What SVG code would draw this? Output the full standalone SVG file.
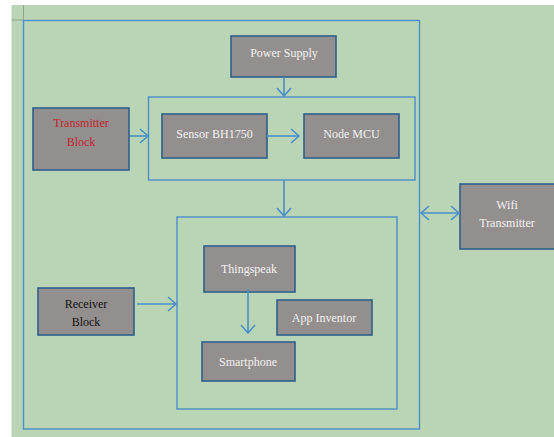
<svg xmlns="http://www.w3.org/2000/svg" width="554" height="437" viewBox="0 0 554 437">
<defs>
<marker id="arr" markerUnits="userSpaceOnUse" markerWidth="12" markerHeight="16" refX="9" refY="8" orient="auto-start-reverse">
<path d="M1,1 L9,8 L1,15" fill="none" stroke="#4a8fc9" stroke-width="1.6"/>
</marker>
<style>
.box{fill:#938f8f;stroke:#2e5f8e;stroke-width:1.6}
.frame{fill:none;stroke:#4a8fc9;stroke-width:1.4}
.conn{fill:none;stroke:#4a8fc9;stroke-width:1.6}
text{font-family:"Liberation Serif","Times New Roman",serif;font-size:12px;text-anchor:middle;fill:#f2f2f2}
</style>
</defs>
<rect x="0" y="0" width="554" height="437" fill="#ffffff"/>
<rect x="11.5" y="5" width="542.5" height="432" fill="#bad5b6"/>
<g id="corner-marks" stroke="#8ea68a" stroke-width="1">
<line x1="23.5" y1="5" x2="23.5" y2="21"/>
<line x1="11.5" y1="20" x2="23.5" y2="20"/>
</g>
<g id="outer-frame"><rect class="frame" x="23.5" y="20.5" width="396" height="408.5"/></g>
<g id="transmit-frame"><rect class="frame" x="148.5" y="97" width="266.5" height="83"/></g>
<g id="receive-frame"><rect class="frame" x="177" y="217" width="220" height="192"/></g>
<g id="power-supply"><rect class="box" x="231" y="36" width="105" height="41"/><text x="284" y="57">Power Supply</text></g>
<g id="transmitter-block"><rect class="box" x="33" y="108" width="96" height="62"/><text x="81" y="127" style="fill:#c0262b">Transmitter</text><text x="81" y="146" style="fill:#c0262b">Block</text></g>
<g id="sensor"><rect class="box" x="162" y="114" width="105" height="44"/><text x="214.5" y="138">Sensor BH1750</text></g>
<g id="node-mcu"><rect class="box" x="304" y="114" width="95" height="44"/><text x="351.5" y="138">Node MCU</text></g>
<g id="wifi-transmitter"><rect class="box" x="460" y="184" width="95" height="65"/><text x="507" y="209">Wifi</text><text x="507" y="227">Transmitter</text></g>
<g id="thingspeak"><rect class="box" x="204" y="246" width="91" height="46"/><text x="249" y="273">Thingspeak</text></g>
<g id="app-inventor"><rect class="box" x="277" y="300" width="95" height="35"/><text x="324" y="322">App Inventor</text></g>
<g id="smartphone"><rect class="box" x="202" y="342" width="93" height="39"/><text x="248" y="366">Smartphone</text></g>
<g id="receiver-block"><rect class="box" x="38" y="288" width="96" height="47"/><text x="86" y="308" style="fill:#111111">Receiver</text><text x="86" y="326" style="fill:#111111">Block</text></g>
<g id="connectors">
<line class="conn" x1="284" y1="77" x2="284" y2="96" marker-end="url(#arr)"/>
<line class="conn" x1="130" y1="136" x2="148" y2="136" marker-end="url(#arr)"/>
<line class="conn" x1="267" y1="136" x2="299" y2="136" marker-end="url(#arr)"/>
<line class="conn" x1="284" y1="180" x2="284" y2="216" marker-end="url(#arr)"/>
<line class="conn" x1="137" y1="304" x2="176" y2="304" marker-end="url(#arr)"/>
<line class="conn" x1="248" y1="289" x2="248" y2="333" marker-end="url(#arr)"/>
<line class="conn" x1="421" y1="213" x2="459" y2="213" marker-start="url(#arr)" marker-end="url(#arr)"/>
</g>
</svg>
